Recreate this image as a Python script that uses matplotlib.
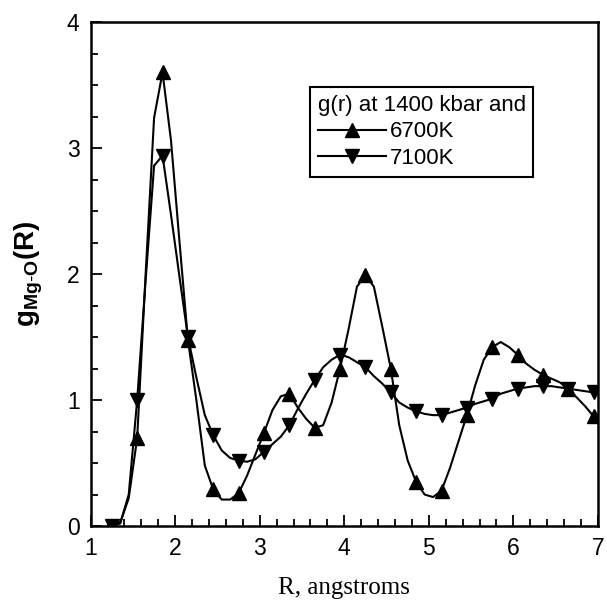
import numpy as np
import matplotlib
matplotlib.use("Agg")
import matplotlib.pyplot as plt
from matplotlib.ticker import MultipleLocator

plt.rcParams['font.family'] = ['Liberation Sans', 'DejaVu Sans']
plt.rcParams['mathtext.fontset'] = 'custom'
plt.rcParams['mathtext.rm'] = 'Liberation Sans'
plt.rcParams['mathtext.bf'] = 'Liberation Sans:bold'

# R grid (angstroms), markers on every third point
r = [1.25, 1.35, 1.45, 1.55, 1.65, 1.75, 1.85, 1.95, 2.05, 2.15,
     2.25, 2.35, 2.45, 2.55, 2.65, 2.75, 2.85, 2.95, 3.05, 3.15,
     3.25, 3.35, 3.45, 3.55, 3.65, 3.75, 3.85, 3.95, 4.05, 4.15,
     4.25, 4.35, 4.45, 4.55, 4.65, 4.75, 4.85, 4.95, 5.05, 5.15,
     5.25, 5.35, 5.45, 5.55, 5.65, 5.75, 5.85, 5.95, 6.05, 6.15,
     6.25, 6.35, 6.45, 6.55, 6.65, 6.75, 6.85, 6.95]

# g(r) at 6700K
g_6700 = [0.00, 0.03, 0.22, 0.70, 2.00, 3.24, 3.60, 3.06, 2.26, 1.48,
          1.00, 0.48, 0.29, 0.21, 0.21, 0.26, 0.40, 0.57, 0.74, 0.92,
          1.03, 1.05, 0.94, 0.85, 0.78, 0.80, 0.98, 1.25, 1.56, 1.90,
          1.99, 1.90, 1.58, 1.25, 0.80, 0.52, 0.35, 0.25, 0.23, 0.28,
          0.46, 0.67, 0.88, 1.12, 1.32, 1.42, 1.46, 1.42, 1.36, 1.29,
          1.24, 1.20, 1.17, 1.14, 1.09, 1.02, 0.95, 0.87]

# g(r) at 7100K
g_7100 = [0.00, 0.02, 0.25, 1.00, 1.95, 2.86, 2.94, 2.47, 1.98, 1.50,
          1.18, 0.88, 0.72, 0.60, 0.54, 0.52, 0.51, 0.53, 0.59, 0.65,
          0.71, 0.80, 0.93, 1.05, 1.16, 1.26, 1.32, 1.36, 1.34, 1.30,
          1.26, 1.19, 1.13, 1.06, 0.98, 0.94, 0.91, 0.89, 0.88, 0.88,
          0.90, 0.92, 0.94, 0.97, 0.99, 1.01, 1.05, 1.07, 1.09, 1.10,
          1.11, 1.11, 1.11, 1.10, 1.09, 1.08, 1.07, 1.06]

x_ticks = [1, 2, 3, 4, 5, 6, 7]
y_ticks = [0, 1, 2, 3, 4]

fig = plt.figure(figsize=(6.07, 6.0), dpi=100)
ax = fig.add_axes([0.1494, 0.1233, 0.8356, 0.84])

ax.plot(r, g_6700, color='black', lw=1.5, marker='^', markersize=9.5,
        markevery=3, label='6700K')
ax.plot(r, g_7100, color='black', lw=1.5, marker='v', markersize=9.5,
        markevery=3, label='7100K')

ax.set_xlim(1, 7)
ax.set_ylim(0, 4)
ax.set_xticks(x_ticks)
ax.set_yticks(y_ticks)
ax.xaxis.set_minor_locator(MultipleLocator(0.2))
ax.yaxis.set_minor_locator(MultipleLocator(0.25))
ax.tick_params(which='both', direction='in', top=False, right=False,
               labelsize=16.5, width=1.3)
ax.tick_params(which='major', length=8, pad=8)
ax.tick_params(which='minor', length=5)
for s in ax.spines.values():
    s.set_linewidth(1.8)

ax.set_xlabel('R, angstroms', fontsize=18, family='Liberation Serif', labelpad=12)
ax.set_ylabel(r'$\mathbf{g}_{\mathbf{Mg\text{-}O}}\mathbf{(R)}$', fontsize=20, labelpad=16)

leg = ax.legend(title='g(r) at 1400 kbar and', loc='upper left',
                bbox_to_anchor=(0.432, 0.871), fontsize=16,
                title_fontsize=16, handlelength=3.1, handletextpad=0.15,
                borderpad=0.35, labelspacing=0.25, borderaxespad=0,
                fancybox=False, framealpha=1, edgecolor='black',
                alignment='left')
leg.get_frame().set_linewidth(1.5)

plt.savefig('out.png', dpi=100)
